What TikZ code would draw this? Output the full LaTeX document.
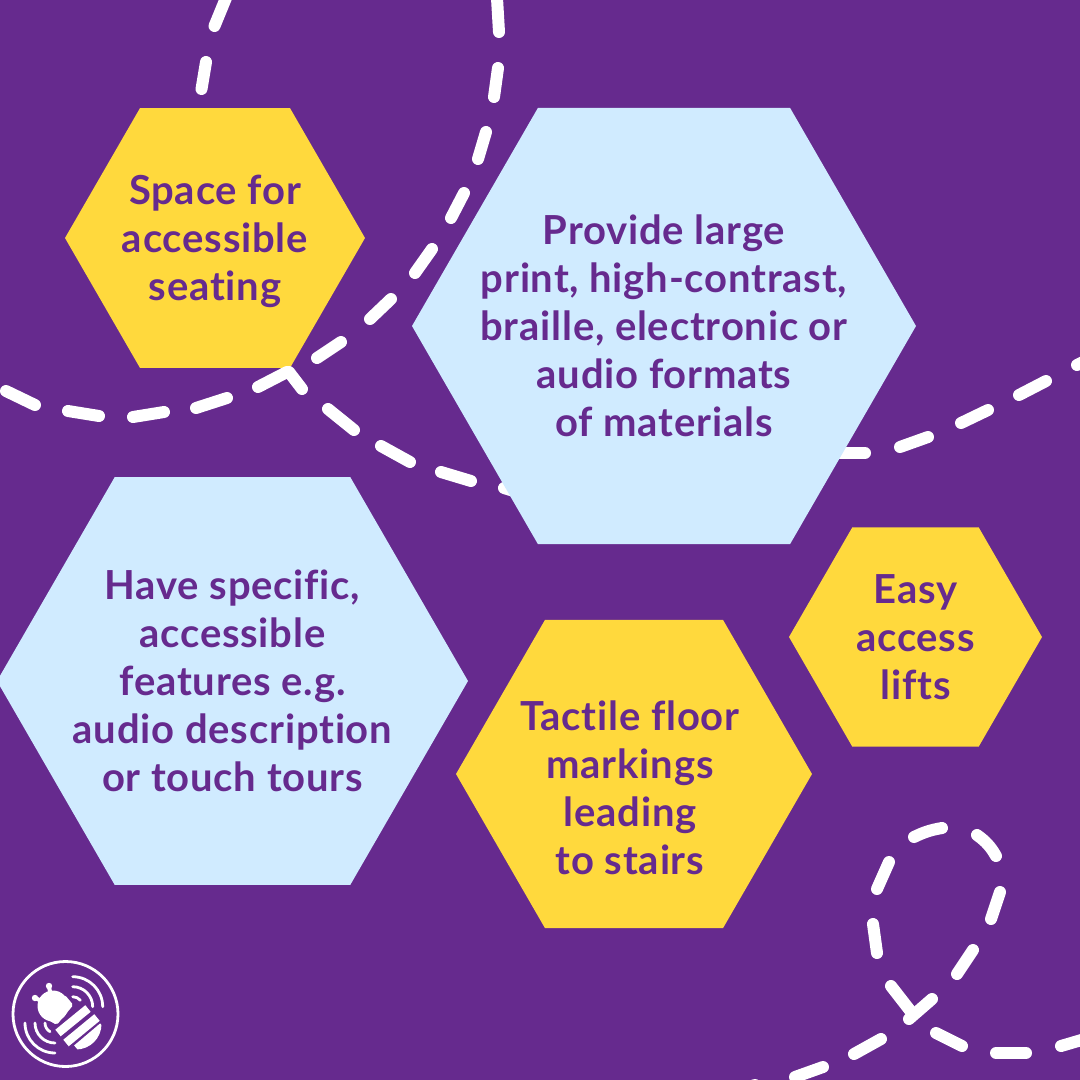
\documentclass[tikz,border=0pt]{standalone}
\usepackage{fontspec}
\setmainfont{Lato}[BoldFont={Lato Bold},BoldFeatures={Ligatures=NoCommon,LetterSpace=2.0}]
\usetikzlibrary{shapes.geometric}
\definecolor{plum}{HTML}{662A8E}
\definecolor{sun}{HTML}{FFD93D}
\definecolor{sky}{HTML}{D0EBFF}

\begin{document}
\begin{tikzpicture}[
  x=1pt, y=-1pt,
  hexcell/.style={regular polygon, regular polygon sides=6, inner sep=0pt, outer sep=0pt},
  hextext/.style={align=center, text=plum, inner sep=0pt, font=\fontsize{40}{48}\selectfont\bfseries},
  trailstroke/.style={white, line width=12pt, line cap=round},
  logostroke/.style={white, line width=2.8pt, line cap=round}
]
\useasboundingbox (0,0) rectangle (1080,1080);
\fill[plum] (0,0) rectangle (1080,1080);

\node[hexcell, fill=sun, minimum size=300pt] (seating) at (215,238) {};

\foreach \ax/\ay/\bx/\by/\bend in {
  226/-2/214.5/26/0, 206/62/201.5/89/0,
  497/-2/499/32/0, 498/68/494/97/0, 486/132/478/159/0, 464/193/451/218/0,
  432/249/415/273/0, 391/299/370/319/0, 341/342/317/358/0, 287/372/258/387/0,
  227/398/196/408/0, 164/412/133/417/0, 99/416/68/411/0, 35/405/6/391/0,
  289/372/302/389/0, 328/409/354/430/0, 381/446/410/462/0, 441/472/471/481/0,
  504/488/530/496/0, 820/453/865/453/0, 900/447/928/437/0, 961/423/988/410/0,
  1019/395/1046/381/0, 1077/365/1097/355/0,
  735/1092/755/1085/0, 795/1077/823/1067/0, 854/1054/881/1039/0, 909/1019/932/999/0,
  891/986/912/1013/0, 957/974/973/950/0, 991/919/1000/892/0, 996/856/977/835/12,
  942/828/914/837/8, 889/862/877/889/0, 873/924/877/953/0,
  936/1033/962/1046/0, 996/1053/1026/1053/0, 1061/1046/1095/1036/0
}
  \draw[trailstroke] (\ax,\ay) to[bend right=\bend] (\bx,\by);

\node[hexcell, fill=sky, minimum size=504pt] (formats) at (664,326) {};
\node[hexcell, fill=sky, minimum size=471pt] (features) at (232.5,681) {};
\node[hexcell, fill=sun, minimum size=356pt] (tactile) at (634,774) {};
\node[hexcell, fill=sun, minimum size=253pt] (lifts) at (915.5,637) {};

\node[hextext] (seatingtext) at (215,241.5) {Space for\\accessible\\seating};
\node[hextext] (formatstext) at (664,326) {Provide large\\print, high-contrast,\\braille, electronic or\\audio formats\\of materials};
\node[hextext] (featurestext) at (232.5,681) {Have specific,\\accessible\\features e.g.\\audio description\\or touch tours};
\node[hextext] (tactiletext) at (630,788) {Tactile floor\\markings\\leading\\to stairs};
\node[hextext] (liftstext) at (915.5,637) {Easy\\access\\lifts};

\node[circle, draw=white, line width=2.8pt, minimum size=105pt, inner sep=0pt] (logo) at (65.5,1014) {};
\draw[logostroke] (72.7,976.7) arc (-90:0:30);
\draw[logostroke] (72.7,986.7) arc (-90:0:20);
\draw[logostroke] (72.7,996.7) arc (-90:-40:10);
\draw[logostroke] (25,1023) arc (180:90:30);
\draw[logostroke] (35,1023) arc (180:90:20);
\draw[logostroke] (45,1023) arc (180:120:10);
\fill[white] (53,1006) circle (15.5);
\fill[white, rounded corners=2pt] (45,1018) -- (56.7,1025) -- (73.3,1005) -- (65,995) -- cycle;
\draw[white, line width=4pt] (49,987) -- (52,1000) (35.5,998) -- (45,1003);
\fill[white] (49,986) circle (3.2) (35,998) circle (3.2);
\begin{scope}
  \clip (76,1024) circle (25.5);
  \draw[white, line width=8.5pt] (58,1033) -- (88,1008.5);
  \draw[white, line width=8.5pt] (66,1043) -- (97,1017.5);
  \draw[white, line width=12pt] (78,1050) -- (104,1028);
\end{scope}
\end{tikzpicture}
\end{document}
